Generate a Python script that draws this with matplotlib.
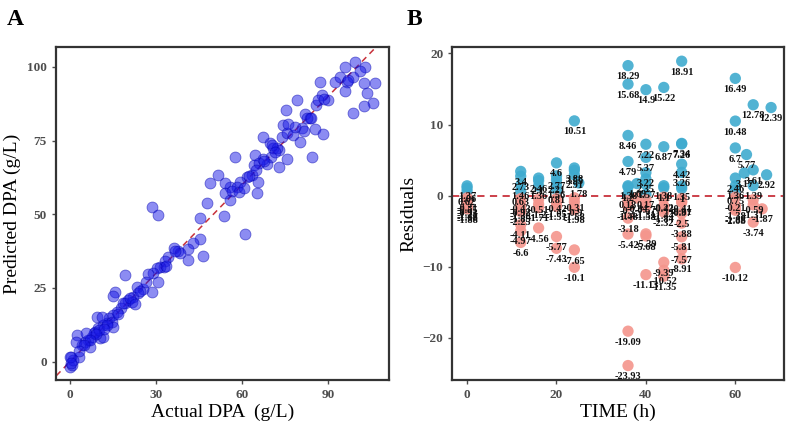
import numpy as np
import matplotlib
matplotlib.use("Agg")
import matplotlib.pyplot as plt

plt.rcParams['font.family'] = ['Liberation Serif', 'DejaVu Serif']

## panel A: actual vs predicted DPA (g/L)
actual = [99.4, 95.9, 102.9, 101.2, 98.8, 92.4, 94.2, 96.5, 87.0, 95.9, 102.6, 106.4,
          103.5, 105.8, 102.6, 98.8, 90.1, 87.8, 85.8, 86.6, 79.1, 75.3, 82.0, 83.5,
          82.6, 80.8, 85.4, 88.1, 74.4, 73.8, 75.6, 77.9, 80.2, 81.4, 84.3, 75.8,
          73.0, 69.8, 67.2, 70.0, 68.6, 67.4, 73.0, 70.7, 57.6, 64.6, 64.0, 63.4,
          65.7, 61.7, 59.3, 55.8, 58.1, 65.1, 51.7, 54.1, 48.8, 54.1, 55.8, 47.7,
          53.8, 61.0, 45.3, 28.5, 30.8, 45.3, 46.3, 43.0, 41.3, 41.3, 37.8, 36.3,
          34.3, 33.1, 32.6, 31.2, 30.2, 29.1, 27.3, 30.8, 28.5, 19.2, 15.7, 14.9,
          25.6, 23.3, 23.8, 22.1, 20.3, 19.2, 21.5, 17.7, 16.3, 15.1, 13.7, 12.8,
          11.4, 9.9, 9.3, 11.0, 8.7, 7.6, 6.4, 5.2, 4.1, 2.6, 2.1, 3.3, 0.2, 0.0,
          0.6, 7.0, 10.5, 11.6, 14.5, 14.9, 8.4, 5.6, 10.2, 66.0, 64.8, 62.5, 76.0,
          78.5, 72.0, 70.5, 56.5, 58.8, 88.5, 97.0, 84.0, 38.5, 33.5, 24.5, 26.5,
          18.5, 21.0, 13.0, 12.0, 9.0, 6.8, 4.8, 3.0, 1.0, 0.0, 0.3, 36.5, 22.5,
          16.8, 60.5, 67.8, 71.5]
predicted = [101.7, 100.0, 100.0, 98.6, 96.4, 94.9, 96.4, 94.9, 94.9, 91.9, 94.4, 94.6,
             91.2, 87.8, 86.7, 84.4, 88.7, 90.6, 87.2, 88.7, 88.9, 85.5, 84.0, 82.5,
             82.8, 79.4, 78.8, 77.1, 80.2, 76.3, 77.4, 76.8, 74.6, 78.3, 69.3, 68.9,
             71.8, 74.0, 76.3, 69.5, 67.2, 68.9, 66.1, 72.3, 69.5, 70.2, 66.7, 63.3,
             61.0, 62.7, 61.0, 59.3, 59.3, 57.1, 63.3, 60.5, 60.5, 57.1, 54.8, 53.9,
             49.4, 43.3, 48.6, 52.3, 49.7, 41.5, 35.8, 40.1, 38.1, 34.5, 37.6, 38.4,
             35.6, 34.2, 32.2, 32.2, 31.6, 30.2, 29.6, 27.1, 23.7, 29.4, 23.7, 22.4,
             24.5, 25.2, 23.4, 22.0, 20.9, 19.8, 20.3, 18.1, 16.9, 15.8, 14.7, 13.0,
             12.4, 11.3, 15.3, 15.3, 10.2, 8.5, 7.3, 6.8, 5.6, 9.0, 6.8, 1.7, 1.7, -1.7,
             -1.1, 5.1, 7.9, 8.2, 13.6, 11.9, 9.6, 9.6, 10.7, 67.5, 65.0, 63.0, 80.5,
             79.5, 72.5, 73.5, 58.0, 57.5, 89.0, 95.5, 82.5, 37.0, 32.5, 24.0, 27.0,
             20.0, 21.5, 12.5, 11.0, 9.5, 7.5, 5.5, 3.5, 0.5, 1.5, -0.5, 37.5, 19.5,
             16.0, 59.0, 68.0, 71.0]

## panel B: residuals against fermentation time (h)
time_h = [0, 0, 0, 0, 0, 0, 0, 0, 0, 0,
          12, 12, 12, 12, 12, 12, 12, 12, 12, 12, 12, 12,
          16, 16, 16, 16, 16, 16, 16,
          20, 20, 20, 20, 20, 20, 20, 20, 20, 20,
          24, 24, 24, 25, 24, 24, 24, 24, 24, 24, 24,
          36, 36, 36, 36, 36, 36, 36, 36, 36, 36, 36, 36, 36, 36,
          38, 38,
          40, 40, 40, 40, 40, 40, 40, 40, 40, 40, 40, 40, 40,
          44, 44, 44, 44, 44, 44, 44, 44, 44, 44, 44, 44,
          48, 48, 48, 48, 48, 48, 48, 48, 48, 48, 48, 48, 48, 48, 48,
          60, 60, 60, 60, 60, 60, 60, 60, 60, 60, 60,
          62.5, 62, 64, 64, 64, 64, 64, 64, 66, 67, 68]
residual = [1.37, 1.06, 0.62, -0.31, -0.55, -0.93, -1.21, -1.47, -1.68, -1.88,
            3.4, 2.73, 1.46, 0.63, -0.43, -0.92, -1.38, -1.85, -2.25, -4.11, -4.97, -6.6,
            2.46, 2.1, 1.36, -0.51, -1.2, -1.71, -4.56,
            4.6, 2.77, 2.21, 1.56, 0.81, -0.42, -1.05, -1.51, -5.77, -7.43,
            10.51, 3.88, 3.55, 1.78, 2.91, -0.31, -0.9, -1.58, -1.98, -7.65, -10.1,
            18.29, 15.68, 8.46, 4.79, 1.38, 1.2, 0.18, -0.7, -1.4, -1.48, -3.18, -5.42, -19.09, -23.93,
            1.69, -0.34,
            14.9, 7.22, 5.37, 3.22, 2.35, 1.57, 0.17, -0.57, -1.31, -1.58, -5.39, -5.68, -11.13,
            15.22, 6.87, 1.38, 1.1, -0.22, -0.42, -1.44, -1.84, -2.32, -9.39, -10.52, -11.35,
            18.91, 7.34, 7.26, 4.42, 3.26, 1.35, 1.0, -0.41, -0.81, -0.97, -2.5, -3.88, -5.81, -7.57, -8.91,
            16.49, 10.48, 6.7, 2.46, 1.36, 0.75, -0.21, -1.38, -1.88, -2.08, -10.12,
            5.77, 3.17, 12.78, 3.61, 1.39, -0.59, -1.31, -3.74, -1.87, 2.92, 12.39]

tekst = '#4d4d4d'
rama = '#333333'

def ustawOsie(ax):
    for s in ax.spines.values():
        s.set_linewidth(1.6)
        s.set_color(rama)
    ax.tick_params(direction='out', length=3, width=1, color=tekst,
                   labelsize=9.5, labelcolor=tekst)
    for t in ax.get_xticklabels() + ax.get_yticklabels():
        t.set_fontweight('bold')

fig = plt.figure(figsize=(7.88, 4.24), dpi=100)
axA = fig.add_axes([0.071, 0.104, 0.423, 0.785])
axB = fig.add_axes([0.574, 0.104, 0.421, 0.785])

## A
axA.plot([-10, 120], [-10, 120], ls=(0, (4, 3)), color='#c8323c', lw=1.1, zorder=1)
axA.scatter(actual, predicted, s=62, color='#1a1ae6', alpha=0.5,
            edgecolors='#0000b0', linewidths=0.6, zorder=2)
axA.set_xlim(-4.9, 111.3)
axA.set_ylim(-6.2, 106.7)
axA.set_xticks([0, 30, 60, 90])
axA.set_yticks([0, 25, 50, 75, 100])
axA.set_xlabel('Actual DPA  (g/L)', fontsize=14, labelpad=2)
axA.set_ylabel('Predicted DPA (g/L)', fontsize=14, labelpad=4)
ustawOsie(axA)

## B
kolory = ['#3fabcf' if r > 0 else '#f4958c' for r in residual]
axB.axhline(0, ls=(0, (4, 3)), color='#c8323c', lw=1.3, zorder=1)
axB.scatter(time_h, residual, s=66, c=kolory, alpha=0.9, linewidths=0, zorder=2)
for t, r in zip(time_h, residual):
    axB.annotate('%g' % r, (t, r), xytext=(0, -8), textcoords='offset points',
                 ha='center', va='center', fontsize=7.5, fontweight='bold',
                 color='#111111', zorder=3)
axB.set_xlim(-3.3, 70.9)
axB.set_ylim(-25.95, 20.9)
axB.set_xticks([0, 20, 40, 60])
axB.set_yticks([-20, -10, 0, 10, 20])
axB.set_xlabel('TIME (h)', fontsize=14, labelpad=2)
axB.set_ylabel('Residuals', fontsize=14, labelpad=4)
ustawOsie(axB)

fig.text(0.008, 0.955, 'A', fontsize=17, fontweight='bold', va='center')
fig.text(0.516, 0.955, 'B', fontsize=17, fontweight='bold', va='center')

fig.savefig('out.png', dpi=100)
